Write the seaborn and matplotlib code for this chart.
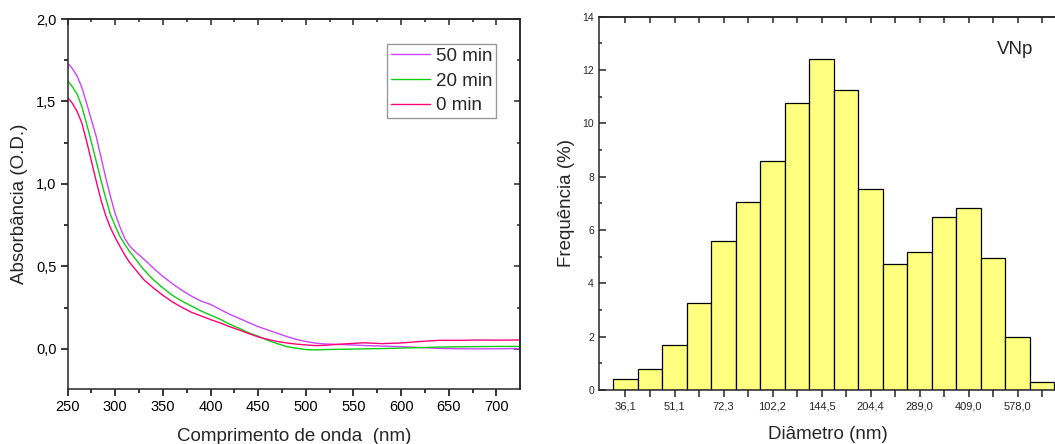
import numpy as np
import pandas as pd
import matplotlib
matplotlib.use("Agg")
import matplotlib.pyplot as plt
from matplotlib.ticker import MultipleLocator, FuncFormatter, FixedLocator
import seaborn as sns

# --- UV-Vis spectra -------------------------------------------------------
wavelength_nm = [250, 255, 260, 265, 270, 275, 280, 285, 290, 295, 300, 305,
                 310, 315, 320, 330, 340, 350, 360, 370, 380, 390, 400, 410,
                 420, 430, 440, 450, 460, 470, 480, 490, 500, 510, 520, 540,
                 560, 580, 600, 620, 640, 660, 680, 700, 725]

abs_50min = [1.734, 1.70, 1.655, 1.585, 1.49, 1.39, 1.29, 1.165, 1.04, 0.925,
             0.82, 0.74, 0.67, 0.625, 0.595, 0.545, 0.49, 0.44, 0.395, 0.355,
             0.32, 0.29, 0.27, 0.24, 0.21, 0.185, 0.16, 0.135, 0.115, 0.095,
             0.075, 0.058, 0.045, 0.035, 0.03, 0.026, 0.021, 0.017, 0.014,
             0.008, 0.003, 0.001, 0.0, 0.001, 0.002]

abs_20min = [1.627, 1.59, 1.545, 1.47, 1.365, 1.255, 1.14, 1.025, 0.915, 0.815,
             0.745, 0.682, 0.635, 0.591, 0.555, 0.48, 0.42, 0.37, 0.325, 0.29,
             0.26, 0.23, 0.205, 0.18, 0.15, 0.125, 0.098, 0.077, 0.052, 0.032,
             0.014, 0.004, -0.004, -0.006, -0.004, -0.002, 0.0, 0.002, 0.005,
             0.008, 0.011, 0.013, 0.014, 0.015, 0.015]

abs_0min = [1.525, 1.49, 1.44, 1.37, 1.26, 1.14, 1.02, 0.905, 0.81, 0.735,
            0.675, 0.621, 0.57, 0.525, 0.49, 0.42, 0.37, 0.325, 0.285, 0.252,
            0.222, 0.2, 0.178, 0.158, 0.135, 0.115, 0.093, 0.073, 0.058, 0.045,
            0.036, 0.029, 0.024, 0.02, 0.022, 0.03, 0.037, 0.032, 0.036, 0.045,
            0.052, 0.052, 0.054, 0.053, 0.054]

series_labels = ["50 min", "20 min", "0 min"]
series_colors = ["#CC44FF", "#11CC11", "#FF0077"]

# --- Size distribution ----------------------------------------------------
bin_freq = [0.42, 0.79, 1.67, 3.28, 5.58, 7.05, 8.57, 10.78, 12.43, 11.25,
            7.54, 4.72, 5.18, 6.49, 6.84, 4.95, 2.0, 0.3]
diam_labels = ["36,1", "51,1", "72,3", "102,2", "144,5", "204,4", "289,0",
               "409,0", "578,0"]

sns.set_style("ticks")
plt.rcParams["font.family"] = ["Liberation Sans", "DejaVu Sans"]
plt.rcParams["axes.linewidth"] = 1.1

fig = plt.figure(figsize=(10.55, 4.44), dpi=100)

comma = FuncFormatter(lambda v, p: f"{v:.1f}".replace(".", ","))

# ---------------- left: spectra ----------------
ax1 = fig.add_axes([0.064, 0.1239, 0.4289, 0.8333])
spectra = pd.concat([
    pd.DataFrame({"nm": wavelength_nm, "A": vals, "t": lab})
    for vals, lab in zip([abs_50min, abs_20min, abs_0min], series_labels)
])
sns.lineplot(data=spectra, x="nm", y="A", hue="t", hue_order=series_labels,
             palette=dict(zip(series_labels, series_colors)), linewidth=1.0,
             ax=ax1)
ax1.set_xlim(250, 724.7)
ax1.set_ylim(-0.243, 2.0)
ax1.xaxis.set_major_locator(MultipleLocator(50))
ax1.xaxis.set_minor_locator(MultipleLocator(25))
ax1.yaxis.set_major_locator(MultipleLocator(0.5))
ax1.yaxis.set_minor_locator(MultipleLocator(0.25))
ax1.yaxis.set_major_formatter(comma)
ax1.tick_params(which="both", direction="out", width=1.1, labelsize=10.5,
                colors="black")
ax1.tick_params(which="major", length=5, pad=3)
ax1.tick_params(which="minor", length=3.2)
for s in ax1.spines.values():
    s.set_visible(True)
    s.set_linewidth(1.1)

top1 = ax1.secondary_xaxis("top")
top1.xaxis.set_major_locator(MultipleLocator(50))
top1.xaxis.set_minor_locator(MultipleLocator(25))
top1.tick_params(which="both", direction="in", labeltop=False, width=1.1)
top1.tick_params(which="major", length=4.5)
top1.tick_params(which="minor", length=2.5)
right1 = ax1.secondary_yaxis("right")
right1.yaxis.set_major_locator(MultipleLocator(0.5))
right1.yaxis.set_minor_locator(MultipleLocator(0.25))
right1.tick_params(which="both", direction="in", labelright=False, width=1.1)
right1.tick_params(which="major", length=4.5)
right1.tick_params(which="minor", length=2.5)

ax1.set_xlabel("Comprimento de onda  (nm)", fontsize=13.5)
ax1.set_ylabel("Absorbância (O.D.)", fontsize=13.5)
ax1.xaxis.set_label_coords(0.5, -0.105)
ax1.yaxis.set_label_coords(-0.088, 0.5)

sns.move_legend(ax1, "upper right", bbox_to_anchor=(0.947, 0.932),
                title=None, frameon=True, fancybox=False, fontsize=13.5,
                handlelength=2.1, handletextpad=0.3, labelspacing=0.4,
                borderpad=0.2, borderaxespad=0, edgecolor="#999999",
                framealpha=1)
ax1.get_legend().get_frame().set_linewidth(1.0)

# ---------------- right: histogram ----------------
ax2 = fig.add_axes([0.5682, 0.1216, 0.4337, 0.8408])
positions = np.arange(len(bin_freq))
sns.barplot(x=positions, y=bin_freq, color="#FFFF80", saturation=1,
            width=1.0, edgecolor="black", linewidth=0.9, ax=ax2)
ax2.set_xlim(-1.063, 17.61)
ax2.set_ylim(0, 14)
ax2.xaxis.set_major_locator(FixedLocator(positions))
ax2.set_xticklabels([diam_labels[i // 2] if i % 2 == 0 else ""
                     for i in positions])
ax2.yaxis.set_major_locator(MultipleLocator(2))
ax2.yaxis.set_minor_locator(MultipleLocator(1))
ax2.tick_params(axis="x", direction="out", length=5, width=1.1,
                labelsize=8, pad=3)
ax2.tick_params(axis="y", which="both", direction="in", width=1.1,
                labelsize=7.5, pad=4)
ax2.tick_params(axis="y", which="major", length=5)
ax2.tick_params(axis="y", which="minor", length=2.5)
for s in ax2.spines.values():
    s.set_visible(True)
    s.set_linewidth(1.1)

top2 = ax2.secondary_xaxis("top")
top2.xaxis.set_major_locator(FixedLocator(positions))
top2.tick_params(direction="in", length=4.5, width=1.1, labeltop=False)

ax2.set_xlabel("Diâmetro (nm)", fontsize=13.5)
ax2.set_ylabel("Frequência (%)", fontsize=13.5)
ax2.xaxis.set_label_coords(0.5, -0.097)
ax2.yaxis.set_label_coords(-0.054, 0.5)
ax2.text(0.869, 0.911, "VNp", transform=ax2.transAxes, fontsize=13.5,
         ha="left", va="center")

fig.savefig("out.png", dpi=100)
